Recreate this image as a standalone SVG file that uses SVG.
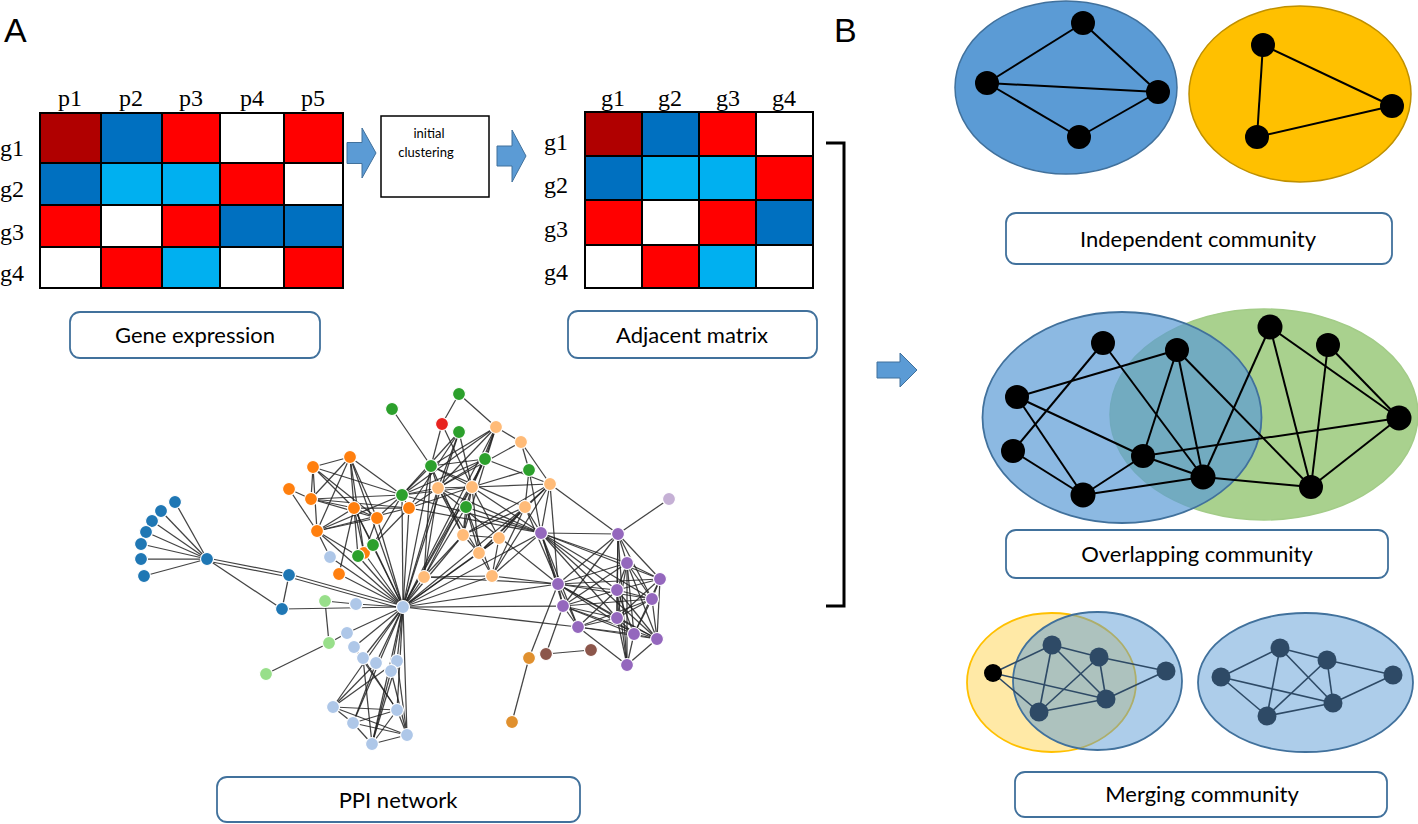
<svg xmlns="http://www.w3.org/2000/svg" width="1418" height="824" viewBox="0 0 1418 824">
<style>
.lbl{font-family:Lato,"Open Sans",sans-serif;font-size:22px;fill:#000;text-anchor:middle}
.ser{font-family:"Liberation Serif",serif;font-size:24px;fill:#000;text-anchor:middle}
.big{font-family:"Liberation Sans",Arial,sans-serif;font-size:34px;fill:#000}
.box{fill:#fff;stroke:#41719C;stroke-width:1.8}
.c{stroke:#000;stroke-width:2}
.dr{fill:#B00000}.db{fill:#0070C0}.rd{fill:#FF0000}.lb{fill:#00B0F0}.wh{fill:#fff}
.arr{fill:#5B9BD5;stroke:#41719C;stroke-width:1}
.pe line{stroke:#222;stroke-width:1.25;stroke-opacity:.85}
.pn circle{r:6.5px;stroke:#fff;stroke-width:1.2}
.bk line{stroke:#000;stroke-width:2}
.bn circle{fill:#000}
.me line{stroke:#2E4A66;stroke-width:1.6}
.mn circle{fill:#2E4A66}
</style>

<text class="big" x="4" y="42">A</text>
<text class="big" x="834" y="42">B</text>

<g id="gene-matrix">
<text class="ser" x="70" y="106">p1</text>
<text class="ser" x="131" y="106">p2</text>
<text class="ser" x="191" y="106">p3</text>
<text class="ser" x="252" y="106">p4</text>
<text class="ser" x="313" y="106">p5</text>
<text class="ser" x="12" y="156">g1</text>
<text class="ser" x="12" y="197">g2</text>
<text class="ser" x="12" y="240">g3</text>
<text class="ser" x="12" y="281">g4</text>
<g class="c">
<rect class="dr" x="40" y="113" width="61" height="50"/>
<rect class="db" x="101" y="113" width="61" height="50"/>
<rect class="rd" x="162" y="113" width="58" height="50"/>
<rect class="wh" x="220" y="113" width="64" height="50"/>
<rect class="rd" x="284" y="113" width="59" height="50"/>
<rect class="db" x="40" y="163" width="61" height="42"/>
<rect class="lb" x="101" y="163" width="61" height="42"/>
<rect class="lb" x="162" y="163" width="58" height="42"/>
<rect class="rd" x="220" y="163" width="64" height="42"/>
<rect class="wh" x="284" y="163" width="59" height="42"/>
<rect class="rd" x="40" y="205" width="61" height="42"/>
<rect class="wh" x="101" y="205" width="61" height="42"/>
<rect class="rd" x="162" y="205" width="58" height="42"/>
<rect class="db" x="220" y="205" width="64" height="42"/>
<rect class="db" x="284" y="205" width="59" height="42"/>
<rect class="wh" x="40" y="247" width="61" height="41"/>
<rect class="rd" x="101" y="247" width="61" height="41"/>
<rect class="lb" x="162" y="247" width="58" height="41"/>
<rect class="wh" x="220" y="247" width="64" height="41"/>
<rect class="rd" x="284" y="247" width="59" height="41"/>
</g>
</g>

<g id="gene-expression-label">
<rect class="box" x="70" y="312" width="250" height="46" rx="10"/>
<text class="lbl" x="195" y="343">Gene expression</text>
</g>

<g id="initial-clustering">
<rect x="381" y="116" width="108" height="81" fill="#fff" stroke="#000" stroke-width="1.5"/>
<text x="429" y="138" font-family="Lato,'Open Sans',sans-serif" font-size="13" text-anchor="middle">initial</text>
<text x="426" y="157" font-family="Lato,'Open Sans',sans-serif" font-size="13" text-anchor="middle">clustering</text>
</g>

<g id="adjacent-matrix">
<text class="ser" x="613" y="106">g1</text>
<text class="ser" x="670" y="106">g2</text>
<text class="ser" x="728" y="106">g3</text>
<text class="ser" x="784" y="106">g4</text>
<text class="ser" x="556" y="150">g1</text>
<text class="ser" x="556" y="193">g2</text>
<text class="ser" x="556" y="237">g3</text>
<text class="ser" x="556" y="280">g4</text>
<g class="c">
<rect class="dr" x="585" y="112" width="57" height="44"/>
<rect class="db" x="642" y="112" width="57" height="44"/>
<rect class="rd" x="699" y="112" width="57" height="44"/>
<rect class="wh" x="756" y="112" width="57" height="44"/>
<rect class="db" x="585" y="156" width="57" height="44"/>
<rect class="lb" x="642" y="156" width="57" height="44"/>
<rect class="lb" x="699" y="156" width="57" height="44"/>
<rect class="rd" x="756" y="156" width="57" height="44"/>
<rect class="rd" x="585" y="200" width="57" height="45"/>
<rect class="wh" x="642" y="200" width="57" height="45"/>
<rect class="rd" x="699" y="200" width="57" height="45"/>
<rect class="db" x="756" y="200" width="57" height="45"/>
<rect class="wh" x="585" y="245" width="57" height="43"/>
<rect class="rd" x="642" y="245" width="57" height="43"/>
<rect class="lb" x="699" y="245" width="57" height="43"/>
<rect class="wh" x="756" y="245" width="57" height="43"/>
</g>
</g>

<g id="adjacent-matrix-label">
<rect class="box" x="568" y="311" width="249" height="47" rx="10"/>
<text class="lbl" x="692" y="343">Adjacent matrix</text>
</g>

<g id="connectors">
<path class="arr" d="M347,142.5 H362 V128 L376,153 L362,178 V163.5 H347 Z"/>
<path class="arr" d="M497,146 H512 V130 L526,156 L512,182 V166 H497 Z"/>
<path class="arr" d="M877,362 H900 V353 L917,370 L900,387 V378 H877 Z"/>
<path d="M826,143 H844 V606 H826" fill="none" stroke="#000" stroke-width="3"/>
</g>

<g id="ppi-network">
<g class="pe">
<line x1="207" y1="559" x2="175" y2="502"/><line x1="207" y1="559" x2="161" y2="511"/><line x1="207" y1="559" x2="152" y2="521"/><line x1="207" y1="559" x2="146" y2="532"/><line x1="207" y1="559" x2="141" y2="544"/><line x1="207" y1="559" x2="141" y2="559"/><line x1="207" y1="559" x2="144" y2="576"/>
<line x1="207" y1="558" x2="289" y2="574"/><line x1="207" y1="561" x2="289" y2="577"/><line x1="207" y1="559" x2="282" y2="609"/><line x1="289" y1="575" x2="282" y2="609"/>
<line x1="289" y1="574" x2="403" y2="606"/><line x1="289" y1="577" x2="403" y2="609"/><line x1="282" y1="609" x2="403" y2="607"/>
<line x1="325" y1="601" x2="329" y2="643"/><line x1="329" y1="643" x2="266" y2="674"/><line x1="325" y1="601" x2="356" y2="604"/><line x1="329" y1="643" x2="347" y2="633"/>
<line x1="403" y1="607" x2="356" y2="604"/><line x1="403" y1="607" x2="330" y2="557"/><line x1="403" y1="607" x2="347" y2="633"/><line x1="403" y1="607" x2="354" y2="647"/><line x1="403" y1="607" x2="363" y2="658"/><line x1="403" y1="607" x2="376" y2="663"/><line x1="403" y1="607" x2="397" y2="661"/><line x1="403" y1="607" x2="391" y2="671"/><line x1="403" y1="607" x2="333" y2="707"/><line x1="403" y1="607" x2="397" y2="710"/><line x1="403" y1="607" x2="353" y2="723"/><line x1="403" y1="607" x2="372" y2="744"/><line x1="403" y1="607" x2="407" y2="735"/>
<line x1="403" y1="607" x2="350" y2="457"/><line x1="403" y1="607" x2="354" y2="508"/><line x1="403" y1="607" x2="377" y2="518"/><line x1="403" y1="607" x2="317" y2="531"/><line x1="403" y1="607" x2="409" y2="508"/><line x1="403" y1="607" x2="364" y2="553"/><line x1="403" y1="607" x2="339" y2="574"/><line x1="403" y1="607" x2="402" y2="495"/><line x1="403" y1="607" x2="373" y2="545"/><line x1="403" y1="607" x2="358" y2="556"/><line x1="403" y1="607" x2="431" y2="466"/><line x1="403" y1="607" x2="459" y2="432"/><line x1="403" y1="607" x2="485" y2="459"/><line x1="403" y1="607" x2="496" y2="427"/><line x1="403" y1="607" x2="438" y2="488"/><line x1="403" y1="607" x2="472" y2="487"/><line x1="403" y1="607" x2="463" y2="535"/><line x1="403" y1="607" x2="479" y2="553"/><line x1="403" y1="607" x2="424" y2="577"/><line x1="403" y1="607" x2="492" y2="576"/><line x1="403" y1="607" x2="499" y2="538"/><line x1="403" y1="607" x2="541" y2="533"/><line x1="403" y1="607" x2="558" y2="584"/><line x1="403" y1="607" x2="578" y2="627"/><line x1="403" y1="607" x2="563" y2="606"/><line x1="403" y1="607" x2="525" y2="507"/>
<line x1="333" y1="707" x2="397" y2="710"/><line x1="333" y1="707" x2="407" y2="735"/><line x1="333" y1="707" x2="353" y2="723"/><line x1="333" y1="707" x2="397" y2="661"/><line x1="333" y1="707" x2="376" y2="663"/><line x1="397" y1="710" x2="407" y2="735"/><line x1="397" y1="710" x2="353" y2="723"/><line x1="397" y1="710" x2="354" y2="647"/><line x1="353" y1="723" x2="372" y2="744"/><line x1="353" y1="723" x2="407" y2="735"/><line x1="353" y1="723" x2="376" y2="663"/><line x1="372" y1="744" x2="407" y2="735"/><line x1="372" y1="744" x2="397" y2="661"/><line x1="372" y1="744" x2="363" y2="658"/><line x1="372" y1="744" x2="391" y2="671"/><line x1="407" y1="735" x2="397" y2="661"/><line x1="407" y1="735" x2="391" y2="671"/><line x1="397" y1="710" x2="363" y2="658"/><line x1="372" y1="744" x2="397" y2="710"/>
<line x1="350" y1="457" x2="313" y2="467"/><line x1="350" y1="457" x2="311" y2="499"/><line x1="350" y1="457" x2="354" y2="508"/><line x1="350" y1="457" x2="317" y2="531"/><line x1="350" y1="457" x2="402" y2="495"/><line x1="350" y1="457" x2="364" y2="553"/><line x1="350" y1="457" x2="377" y2="518"/><line x1="313" y1="467" x2="311" y2="499"/><line x1="313" y1="467" x2="317" y2="531"/><line x1="313" y1="467" x2="354" y2="508"/><line x1="313" y1="467" x2="377" y2="518"/><line x1="313" y1="467" x2="402" y2="495"/><line x1="289" y1="489" x2="311" y2="499"/><line x1="289" y1="489" x2="317" y2="531"/><line x1="311" y1="499" x2="354" y2="508"/><line x1="311" y1="499" x2="377" y2="518"/><line x1="311" y1="499" x2="409" y2="508"/><line x1="311" y1="499" x2="402" y2="495"/><line x1="354" y1="508" x2="377" y2="518"/><line x1="354" y1="508" x2="409" y2="508"/><line x1="354" y1="508" x2="317" y2="531"/><line x1="354" y1="508" x2="364" y2="553"/><line x1="354" y1="508" x2="373" y2="545"/><line x1="354" y1="508" x2="358" y2="556"/><line x1="377" y1="518" x2="364" y2="553"/><line x1="377" y1="518" x2="402" y2="495"/><line x1="317" y1="531" x2="409" y2="508"/><line x1="317" y1="531" x2="377" y2="518"/><line x1="317" y1="531" x2="330" y2="557"/><line x1="317" y1="531" x2="358" y2="556"/><line x1="317" y1="531" x2="402" y2="495"/><line x1="409" y1="508" x2="402" y2="495"/><line x1="402" y1="495" x2="373" y2="545"/><line x1="339" y1="574" x2="354" y2="508"/><line x1="409" y1="508" x2="373" y2="545"/>
<line x1="392" y1="409" x2="431" y2="466"/><line x1="459" y1="394" x2="442" y2="424"/><line x1="459" y1="394" x2="496" y2="427"/><line x1="442" y1="424" x2="431" y2="466"/><line x1="442" y1="424" x2="472" y2="487"/><line x1="459" y1="432" x2="438" y2="488"/><line x1="459" y1="432" x2="472" y2="487"/><line x1="459" y1="432" x2="402" y2="495"/><line x1="431" y1="466" x2="485" y2="459"/><line x1="431" y1="466" x2="438" y2="488"/><line x1="431" y1="466" x2="472" y2="487"/><line x1="431" y1="466" x2="402" y2="495"/><line x1="431" y1="466" x2="463" y2="535"/><line x1="431" y1="466" x2="424" y2="577"/><line x1="431" y1="466" x2="525" y2="507"/><line x1="485" y1="459" x2="496" y2="427"/><line x1="485" y1="459" x2="472" y2="487"/><line x1="485" y1="459" x2="438" y2="488"/><line x1="485" y1="459" x2="550" y2="484"/><line x1="485" y1="459" x2="424" y2="577"/><line x1="496" y1="427" x2="438" y2="488"/><line x1="496" y1="427" x2="472" y2="487"/><line x1="496" y1="427" x2="463" y2="535"/><line x1="496" y1="427" x2="431" y2="466"/><line x1="496" y1="427" x2="521" y2="442"/><line x1="521" y1="442" x2="529" y2="470"/><line x1="521" y1="442" x2="550" y2="484"/><line x1="529" y1="470" x2="541" y2="533"/><line x1="529" y1="470" x2="525" y2="507"/><line x1="529" y1="470" x2="472" y2="487"/><line x1="550" y1="484" x2="618" y2="534"/><line x1="550" y1="484" x2="525" y2="507"/><line x1="550" y1="484" x2="463" y2="535"/><line x1="550" y1="484" x2="479" y2="553"/><line x1="550" y1="484" x2="492" y2="576"/><line x1="550" y1="484" x2="472" y2="487"/><line x1="550" y1="484" x2="541" y2="533"/><line x1="438" y1="488" x2="472" y2="487"/><line x1="438" y1="488" x2="402" y2="495"/><line x1="438" y1="488" x2="463" y2="535"/><line x1="438" y1="488" x2="541" y2="533"/><line x1="438" y1="488" x2="424" y2="577"/><line x1="438" y1="488" x2="479" y2="553"/><line x1="472" y1="487" x2="479" y2="553"/><line x1="472" y1="487" x2="463" y2="535"/><line x1="472" y1="487" x2="499" y2="538"/><line x1="472" y1="487" x2="541" y2="533"/><line x1="472" y1="487" x2="466" y2="507"/><line x1="466" y1="507" x2="463" y2="535"/><line x1="466" y1="507" x2="479" y2="553"/><line x1="466" y1="507" x2="541" y2="533"/><line x1="466" y1="507" x2="492" y2="576"/><line x1="525" y1="507" x2="499" y2="538"/><line x1="525" y1="507" x2="479" y2="553"/><line x1="525" y1="507" x2="492" y2="576"/><line x1="525" y1="507" x2="463" y2="535"/><line x1="463" y1="535" x2="499" y2="538"/><line x1="463" y1="535" x2="479" y2="553"/><line x1="499" y1="538" x2="479" y2="553"/><line x1="499" y1="538" x2="492" y2="576"/><line x1="479" y1="553" x2="492" y2="576"/><line x1="424" y1="577" x2="492" y2="576"/><line x1="424" y1="577" x2="558" y2="584"/><line x1="424" y1="577" x2="463" y2="535"/><line x1="492" y1="576" x2="558" y2="584"/><line x1="492" y1="576" x2="541" y2="533"/><line x1="402" y1="495" x2="472" y2="487"/><line x1="402" y1="495" x2="541" y2="533"/><line x1="409" y1="508" x2="438" y2="488"/><line x1="409" y1="508" x2="472" y2="487"/><line x1="409" y1="508" x2="459" y2="432"/><line x1="409" y1="508" x2="541" y2="533"/><line x1="438" y1="488" x2="558" y2="584"/><line x1="402" y1="495" x2="485" y2="459"/><line x1="402" y1="495" x2="496" y2="427"/><line x1="424" y1="577" x2="466" y2="507"/><line x1="521" y1="442" x2="438" y2="488"/><line x1="525" y1="507" x2="541" y2="533"/>
<line x1="541" y1="533" x2="618" y2="534"/><line x1="541" y1="533" x2="558" y2="584"/><line x1="541" y1="533" x2="627" y2="563"/><line x1="541" y1="533" x2="660" y2="579"/><line x1="541" y1="533" x2="617" y2="590"/><line x1="541" y1="533" x2="652" y2="599"/><line x1="541" y1="533" x2="617" y2="618"/><line x1="541" y1="533" x2="657" y2="639"/><line x1="541" y1="533" x2="563" y2="606"/><line x1="541" y1="533" x2="578" y2="627"/><line x1="618" y1="534" x2="669" y2="499"/><line x1="618" y1="534" x2="627" y2="563"/><line x1="618" y1="534" x2="660" y2="579"/><line x1="618" y1="534" x2="617" y2="590"/><line x1="618" y1="534" x2="617" y2="618"/><line x1="618" y1="534" x2="652" y2="599"/><line x1="618" y1="534" x2="558" y2="584"/><line x1="618" y1="534" x2="563" y2="606"/><line x1="618" y1="534" x2="627" y2="665"/><line x1="627" y1="563" x2="660" y2="579"/><line x1="627" y1="563" x2="617" y2="590"/><line x1="627" y1="563" x2="652" y2="599"/><line x1="627" y1="563" x2="617" y2="618"/><line x1="627" y1="563" x2="634" y2="634"/><line x1="627" y1="563" x2="627" y2="665"/><line x1="627" y1="563" x2="657" y2="639"/><line x1="660" y1="579" x2="652" y2="599"/><line x1="660" y1="579" x2="657" y2="639"/><line x1="660" y1="579" x2="634" y2="634"/><line x1="660" y1="579" x2="617" y2="590"/><line x1="660" y1="579" x2="617" y2="618"/><line x1="558" y1="584" x2="563" y2="606"/><line x1="558" y1="584" x2="578" y2="627"/><line x1="558" y1="584" x2="617" y2="590"/><line x1="558" y1="584" x2="617" y2="618"/><line x1="558" y1="584" x2="627" y2="563"/><line x1="558" y1="584" x2="652" y2="599"/><line x1="558" y1="584" x2="660" y2="579"/><line x1="558" y1="584" x2="634" y2="634"/><line x1="558" y1="584" x2="529" y2="658"/><line x1="558" y1="584" x2="657" y2="639"/><line x1="563" y1="606" x2="578" y2="627"/><line x1="563" y1="606" x2="617" y2="590"/><line x1="563" y1="606" x2="617" y2="618"/><line x1="563" y1="606" x2="634" y2="634"/><line x1="563" y1="606" x2="546" y2="654"/><line x1="563" y1="606" x2="657" y2="639"/><line x1="563" y1="606" x2="627" y2="563"/><line x1="563" y1="606" x2="652" y2="599"/><line x1="578" y1="627" x2="634" y2="634"/><line x1="578" y1="627" x2="627" y2="665"/><line x1="578" y1="627" x2="617" y2="618"/><line x1="578" y1="627" x2="652" y2="599"/><line x1="578" y1="627" x2="657" y2="639"/><line x1="578" y1="627" x2="617" y2="590"/><line x1="617" y1="590" x2="652" y2="599"/><line x1="617" y1="590" x2="617" y2="618"/><line x1="617" y1="590" x2="657" y2="639"/><line x1="617" y1="590" x2="627" y2="665"/><line x1="617" y1="590" x2="634" y2="634"/><line x1="652" y1="599" x2="657" y2="639"/><line x1="652" y1="599" x2="617" y2="618"/><line x1="652" y1="599" x2="634" y2="634"/><line x1="617" y1="618" x2="634" y2="634"/><line x1="617" y1="618" x2="657" y2="639"/><line x1="617" y1="618" x2="627" y2="665"/><line x1="634" y1="634" x2="657" y2="639"/><line x1="634" y1="634" x2="627" y2="665"/><line x1="657" y1="639" x2="627" y2="665"/><line x1="546" y1="654" x2="591" y2="650"/><line x1="529" y1="658" x2="512" y2="722"/><line x1="550" y1="484" x2="558" y2="584"/><line x1="525" y1="507" x2="558" y2="584"/>
</g>
<g class="pn">
<g fill="#1F77B4"><circle id="pb0" cx="207" cy="559"/><circle cx="175" cy="502"/><circle cx="161" cy="511"/><circle cx="152" cy="521"/><circle cx="146" cy="532"/><circle cx="141" cy="544"/><circle cx="141" cy="559"/><circle cx="144" cy="576"/><circle cx="289" cy="575"/><circle cx="282" cy="609"/></g>
<g fill="#AEC7E8"><circle id="pl0" cx="403" cy="607"/><circle cx="356" cy="604"/><circle cx="330" cy="557"/><circle cx="347" cy="633"/><circle cx="354" cy="647"/><circle cx="363" cy="658"/><circle cx="376" cy="663"/><circle cx="397" cy="661"/><circle cx="391" cy="671"/><circle cx="333" cy="707"/><circle cx="397" cy="710"/><circle cx="353" cy="723"/><circle cx="372" cy="744"/><circle cx="407" cy="735"/></g>
<g fill="#98DF8A"><circle cx="325" cy="601"/><circle cx="329" cy="643"/><circle cx="266" cy="674"/></g>
<g fill="#FF7F0E"><circle cx="350" cy="457"/><circle cx="313" cy="467"/><circle cx="289" cy="489"/><circle cx="311" cy="499"/><circle cx="354" cy="508"/><circle cx="377" cy="518"/><circle cx="317" cy="531"/><circle cx="409" cy="508"/><circle cx="364" cy="553"/><circle cx="339" cy="574"/></g>
<g fill="#2CA02C"><circle cx="392" cy="409"/><circle cx="459" cy="394"/><circle cx="459" cy="432"/><circle cx="431" cy="466"/><circle cx="485" cy="459"/><circle cx="529" cy="470"/><circle cx="402" cy="495"/><circle cx="466" cy="507"/><circle cx="373" cy="545"/><circle cx="358" cy="556"/></g>
<g fill="#E8231F"><circle cx="442" cy="424"/></g>
<g fill="#FFBB78"><circle cx="496" cy="427"/><circle cx="521" cy="442"/><circle cx="550" cy="484"/><circle cx="438" cy="488"/><circle cx="472" cy="487"/><circle cx="525" cy="507"/><circle cx="463" cy="535"/><circle cx="499" cy="538"/><circle cx="479" cy="553"/><circle cx="424" cy="577"/><circle cx="492" cy="576"/></g>
<g fill="#9467BD"><circle cx="541" cy="533"/><circle cx="618" cy="534"/><circle cx="627" cy="563"/><circle cx="660" cy="579"/><circle cx="558" cy="584"/><circle cx="617" cy="590"/><circle cx="652" cy="599"/><circle cx="563" cy="606"/><circle cx="617" cy="618"/><circle cx="578" cy="627"/><circle cx="634" cy="634"/><circle cx="657" cy="639"/><circle cx="627" cy="665"/></g>
<g fill="#C5B0D5"><circle cx="669" cy="499"/></g>
<g fill="#8C564B"><circle cx="546" cy="654"/><circle cx="591" cy="650"/></g>
<g fill="#E0902E"><circle cx="529" cy="658"/><circle cx="512" cy="722"/></g>
</g>
</g>

<g id="ppi-label">
<rect class="box" x="217" y="777" width="363" height="45" rx="10"/>
<text class="lbl" x="398" y="808">PPI network</text>
</g>

<g id="independent-community">
<ellipse cx="1066" cy="87.5" rx="111" ry="86.5" fill="#5B9BD5" stroke="#41719C" stroke-width="1.5"/>
<ellipse cx="1300" cy="94" rx="111" ry="88" fill="#FFC000" stroke="#BF9000" stroke-width="1.5"/>
<g class="bk">
<line x1="1083" y1="23" x2="987" y2="83"/><line x1="1083" y1="23" x2="1158" y2="92"/><line x1="987" y1="83" x2="1158" y2="92"/><line x1="987" y1="83" x2="1079" y2="137"/><line x1="1079" y1="137" x2="1158" y2="92"/>
<line x1="1263" y1="45" x2="1392" y2="106"/><line x1="1263" y1="45" x2="1257" y2="137"/><line x1="1257" y1="137" x2="1392" y2="106"/>
</g>
<g class="bn">
<circle cx="1083" cy="23" r="12"/><circle cx="987" cy="83" r="12"/><circle cx="1158" cy="92" r="12"/><circle cx="1079" cy="137" r="12"/>
<circle cx="1263" cy="45" r="12"/><circle cx="1392" cy="106" r="12"/><circle cx="1257" cy="137" r="12"/>
</g>
</g>
<g id="independent-label">
<rect class="box" x="1006" y="213" width="386" height="51" rx="10"/>
<text class="lbl" x="1198" y="247">Independent community</text>
</g>

<g id="overlapping-community">
<ellipse cx="1264" cy="414.5" rx="154" ry="105.5" fill="#A9D18E" stroke="#A3CC88" stroke-width="1.5"/>
<ellipse cx="1122" cy="417.5" rx="139.5" ry="105.5" fill="#5B9BD5" fill-opacity="0.7" stroke="#41719C" stroke-width="1.8"/>
<g class="bk">
<line x1="1017" y1="397" x2="1177" y2="350"/><line x1="1013" y1="451" x2="1103" y2="343"/><line x1="1017" y1="397" x2="1143" y2="456"/><line x1="1017" y1="397" x2="1083" y2="495"/><line x1="1013" y1="451" x2="1083" y2="495"/><line x1="1083" y1="495" x2="1143" y2="456"/><line x1="1083" y1="495" x2="1203" y2="477"/><line x1="1103" y1="343" x2="1203" y2="477"/><line x1="1177" y1="350" x2="1143" y2="456"/><line x1="1177" y1="350" x2="1203" y2="477"/><line x1="1177" y1="350" x2="1311" y2="487"/><line x1="1143" y1="456" x2="1203" y2="477"/><line x1="1143" y1="456" x2="1399" y2="418"/><line x1="1203" y1="477" x2="1270" y2="327"/><line x1="1203" y1="477" x2="1311" y2="487"/><line x1="1270" y1="327" x2="1311" y2="487"/><line x1="1270" y1="327" x2="1399" y2="418"/><line x1="1328" y1="345" x2="1311" y2="487"/><line x1="1328" y1="345" x2="1399" y2="418"/><line x1="1399" y1="418" x2="1311" y2="487"/>
</g>
<g class="bn">
<circle cx="1103" cy="343" r="12"/><circle cx="1177" cy="350" r="12"/><circle cx="1270" cy="327" r="12.5"/><circle cx="1328" cy="345" r="12"/><circle cx="1017" cy="397" r="12"/><circle cx="1399" cy="418" r="12.5"/><circle cx="1013" cy="451" r="12"/><circle cx="1143" cy="456" r="12"/><circle cx="1203" cy="477" r="12.5"/><circle cx="1083" cy="495" r="12.5"/><circle cx="1311" cy="487" r="12"/>
</g>
</g>
<g id="overlapping-label">
<rect class="box" x="1006" y="530" width="382" height="48" rx="10"/>
<text class="lbl" x="1197" y="562">Overlapping community</text>
</g>

<g id="merging-community">
<ellipse cx="1051.5" cy="682.5" rx="84.5" ry="69.5" fill="#FFC000" fill-opacity="0.35" stroke="#FFC000" stroke-width="1.8"/>
<ellipse cx="1097.5" cy="681" rx="84.5" ry="69" fill="#5B9BD5" fill-opacity="0.5" stroke="#41719C" stroke-width="1.8"/>
<ellipse cx="1305.5" cy="682.5" rx="107.5" ry="69.5" fill="#5B9BD5" fill-opacity="0.5" stroke="#41719C" stroke-width="1.8"/>
<g class="me">
<line x1="993" y1="673" x2="1052" y2="645" stroke="#000"/><line x1="993" y1="673" x2="1106" y2="699"/><line x1="993" y1="673" x2="1039" y2="712" stroke="#000"/>
<line x1="1052" y1="645" x2="1099" y2="657"/><line x1="1052" y1="645" x2="1106" y2="699"/><line x1="1052" y1="645" x2="1039" y2="712"/><line x1="1099" y1="657" x2="1039" y2="712"/><line x1="1099" y1="657" x2="1106" y2="699"/><line x1="1099" y1="657" x2="1166" y2="671"/><line x1="1166" y1="671" x2="1106" y2="699"/><line x1="1039" y1="712" x2="1106" y2="699"/>
<line x1="1221" y1="677" x2="1280" y2="648"/><line x1="1221" y1="677" x2="1333" y2="703"/><line x1="1221" y1="677" x2="1267" y2="716"/><line x1="1280" y1="648" x2="1327" y2="660"/><line x1="1280" y1="648" x2="1333" y2="703"/><line x1="1280" y1="648" x2="1267" y2="716"/><line x1="1327" y1="660" x2="1267" y2="716"/><line x1="1327" y1="660" x2="1333" y2="703"/><line x1="1327" y1="660" x2="1393" y2="675"/><line x1="1393" y1="675" x2="1333" y2="703"/><line x1="1267" y1="716" x2="1333" y2="703"/>
</g>
<circle cx="993" cy="673" r="9" fill="#000"/>
<g class="mn">
<circle cx="1052" cy="645" r="9.5"/><circle cx="1099" cy="657" r="9.5"/><circle cx="1166" cy="671" r="9.5"/><circle cx="1106" cy="699" r="9.5"/><circle cx="1039" cy="712" r="9.5"/>
<circle cx="1221" cy="677" r="9.5"/><circle cx="1280" cy="648" r="9.5"/><circle cx="1327" cy="660" r="9.5"/><circle cx="1393" cy="675" r="9.5"/><circle cx="1333" cy="703" r="9.5"/><circle cx="1267" cy="716" r="9.5"/>
</g>
</g>
<g id="merging-label">
<rect class="box" x="1015" y="772" width="372" height="45" rx="10"/>
<text class="lbl" x="1202" y="802">Merging community</text>
</g>
</svg>
